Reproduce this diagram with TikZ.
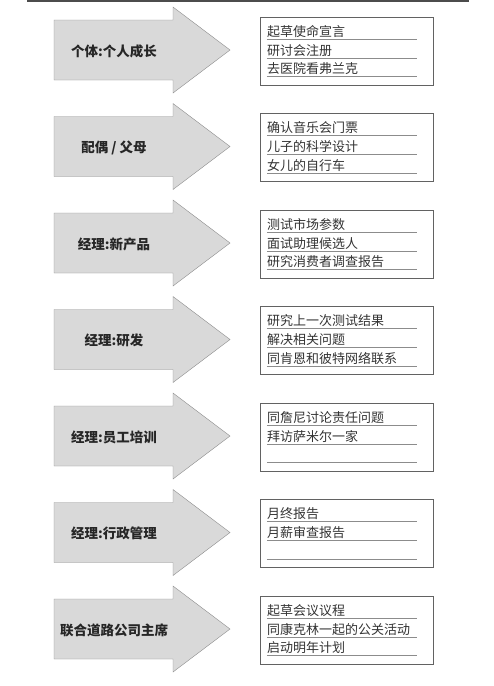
\documentclass[tikz,border=0pt]{standalone}
\usepackage{fontspec}
\setmainfont{Noto Sans CJK SC}
\usepackage{tikz}
\usepackage{xcolor}

\definecolor{arrowgray}{gray}{0.85}
\definecolor{edgegray}{gray}{0.55}
\definecolor{inkgray}{gray}{0.2}

\begin{document}
\begin{tikzpicture}[x=1pt,y=-1pt]
	\useasboundingbox (0,0) rectangle (494,686);
	\newcommand{\rowgap}{96.5}
	\draw [line width=2.5pt, black!70] (27,1) -- (469,1);
	\foreach 
	\i/\who/\first/\second/\third
	in
	{
		1/个体:个人成长/起草使命宣言/研讨会注册/去医院看弗兰克,
		2/{配偶 / 父母}/确认音乐会门票/儿子的科学设计/女儿的自行车,
		3/经理:新产品/测试市场参数/面试助理候选人/研究消费者调查报告,
		4/经理:研发/研究上一次测试结果/解决相关问题/同肯恩和彼特网络联系,
		5/经理:员工培训/同詹尼讨论责任问题/拜访萨米尔一家/{},
		6/经理:行政管理/月终报告/月薪审查报告/{},
		7/联合道路公司主席/起草会议议程/同康克林一起的公关活动/启动明年计划
	}
	{
		\pgfmathsetmacro{\y}{50+\rowgap*(\i-1)}
		\filldraw [fill=arrowgray, draw=edgegray] (54,\y-30) -- (173,\y-30) -- (173,\y-43) -- (230,\y) -- (173,\y+43) -- (173,\y+30) -- (54,\y+30) -- cycle;
		\node [font=\bfseries\fontsize{13.5}{16}\selectfont, text=black!85] (who\i) at (114,\y+1) {\who};
		\node [draw=edgegray!70!black, minimum width=173pt, minimum height=68pt, inner sep=0pt] (todo\i) at (346.5,\y+1) {};
		\node [anchor=base west, inner sep=0pt, font=\fontsize{13}{15}\selectfont, text=inkgray] (todo\i-a) at ([xshift=7pt,yshift=-19.5pt]todo\i.north west) {\first};
		\node [anchor=base west, inner sep=0pt, font=\fontsize{13}{15}\selectfont, text=inkgray] (todo\i-b) at ([xshift=7pt,yshift=-38.5pt]todo\i.north west) {\second};
		\node [anchor=base west, inner sep=0pt, font=\fontsize{13}{15}\selectfont, text=inkgray] (todo\i-c) at ([xshift=7pt,yshift=-57pt]todo\i.north west) {\third};
		\draw [edgegray] ([xshift=7pt,yshift=-22pt]todo\i.north west) -- ++(150,0);
		\draw [edgegray] ([xshift=7pt,yshift=-41pt]todo\i.north west) -- ++(150,0);
		\draw [edgegray] ([xshift=7pt,yshift=-59.5pt]todo\i.north west) -- ++(150,0);
	}
\end{tikzpicture}
\end{document}
